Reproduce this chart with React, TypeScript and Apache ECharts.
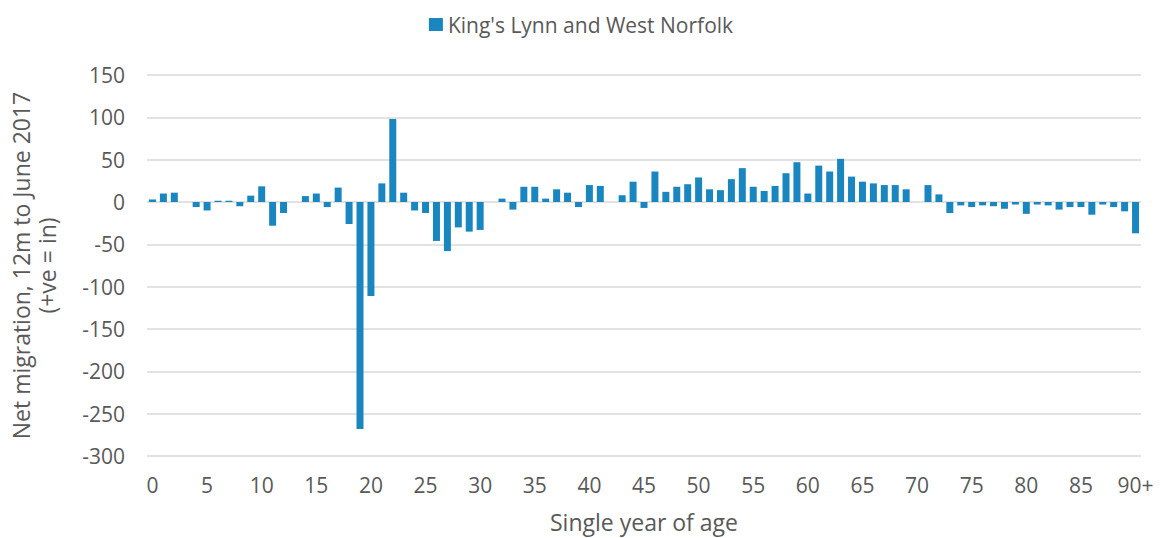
import React, { useEffect, useRef } from "react";
import * as echarts from "echarts";

const seriesName = "King's Lynn and West Norfolk";
const ages: string[] = [];
for (let i = 0; i <= 89; i++) ages.push(String(i));
ages.push("90+");

const netMigration = [
  3, 10, 11, 0, -6, -10, 1.5, 1.5, -5, 7.5,
  18.5, -28, -13, 0, 7, 10, -6, 17, -26, -268,
  -111, 22, 98, 11, -10, -13, -46, -58, -30, -35,
  -33, 0, 4, -9, 18, 18, 4, 15, 11, -6,
  20, 19, 0, 8, 24, -7, 36, 12, 18, 21,
  29, 15, 14, 27, 40, 18, 13, 19, 34, 47,
  10, 43, 36, 51, 30, 24, 22, 20, 20, 15,
  0, 20, 9, -13, -4, -6, -4, -5, -8, -3,
  -14, -3, -4, -9, -6, -6, -15, -3, -6, -11,
  -37,
];

const yAxisTitle = "Net migration, 12m to June 2017\n(+ve = in)";
const xAxisTitle = "Single year of age";

const FONT = "'Open Sans', sans-serif";
const TEXT = "#595959";

export default function App() {
  const ref = useRef<HTMLDivElement>(null);
  useEffect(() => {
    document.body.style.margin = "0";
    const chart = echarts.init(ref.current!, null, { renderer: "svg" });
    chart.setOption({
      animation: false,
      textStyle: { fontFamily: FONT },
      legend: {
        top: 9,
        left: "center",
        icon: "rect",
        itemWidth: 14,
        itemHeight: 13,
        itemGap: 4,
        textStyle: { color: TEXT, fontSize: 21, fontFamily: FONT, padding: [0, 0, 0, 0] },
        data: [seriesName],
      },
      grid: { left: 143, right: 21, top: 75, bottom: 82, containLabel: false },
      xAxis: {
        type: "category",
        data: ages,
        name: xAxisTitle,
        nameLocation: "middle",
        nameGap: 54,
        nameTextStyle: { color: TEXT, fontSize: 23, fontFamily: FONT },
        axisLine: { show: false, onZero: false },
        axisTick: { show: false },
        axisLabel: { interval: 4, color: TEXT, fontSize: 21, fontFamily: FONT, margin: 18 },
      },
      yAxis: {
        type: "value",
        min: -300,
        max: 150,
        interval: 50,
        name: yAxisTitle,
        nameLocation: "middle",
        nameRotate: 90,
        nameGap: 87,
        nameTextStyle: { color: TEXT, fontSize: 23, fontFamily: FONT, lineHeight: 26 },
        axisLine: { show: false },
        axisTick: { show: false },
        axisLabel: { color: TEXT, fontSize: 21, fontFamily: FONT, margin: 22 },
        splitLine: { lineStyle: { color: "#d9d9d9", width: 1.5 } },
      },
      series: [
        {
          name: seriesName,
          type: "bar",
          data: netMigration,
          barCategoryGap: "36%",
          itemStyle: { color: "#1a86c0" },
        },
      ],
    });
    return () => chart.dispose();
  }, []);
  return <div ref={ref} style={{ width: 1162, height: 538 }} />;
}
